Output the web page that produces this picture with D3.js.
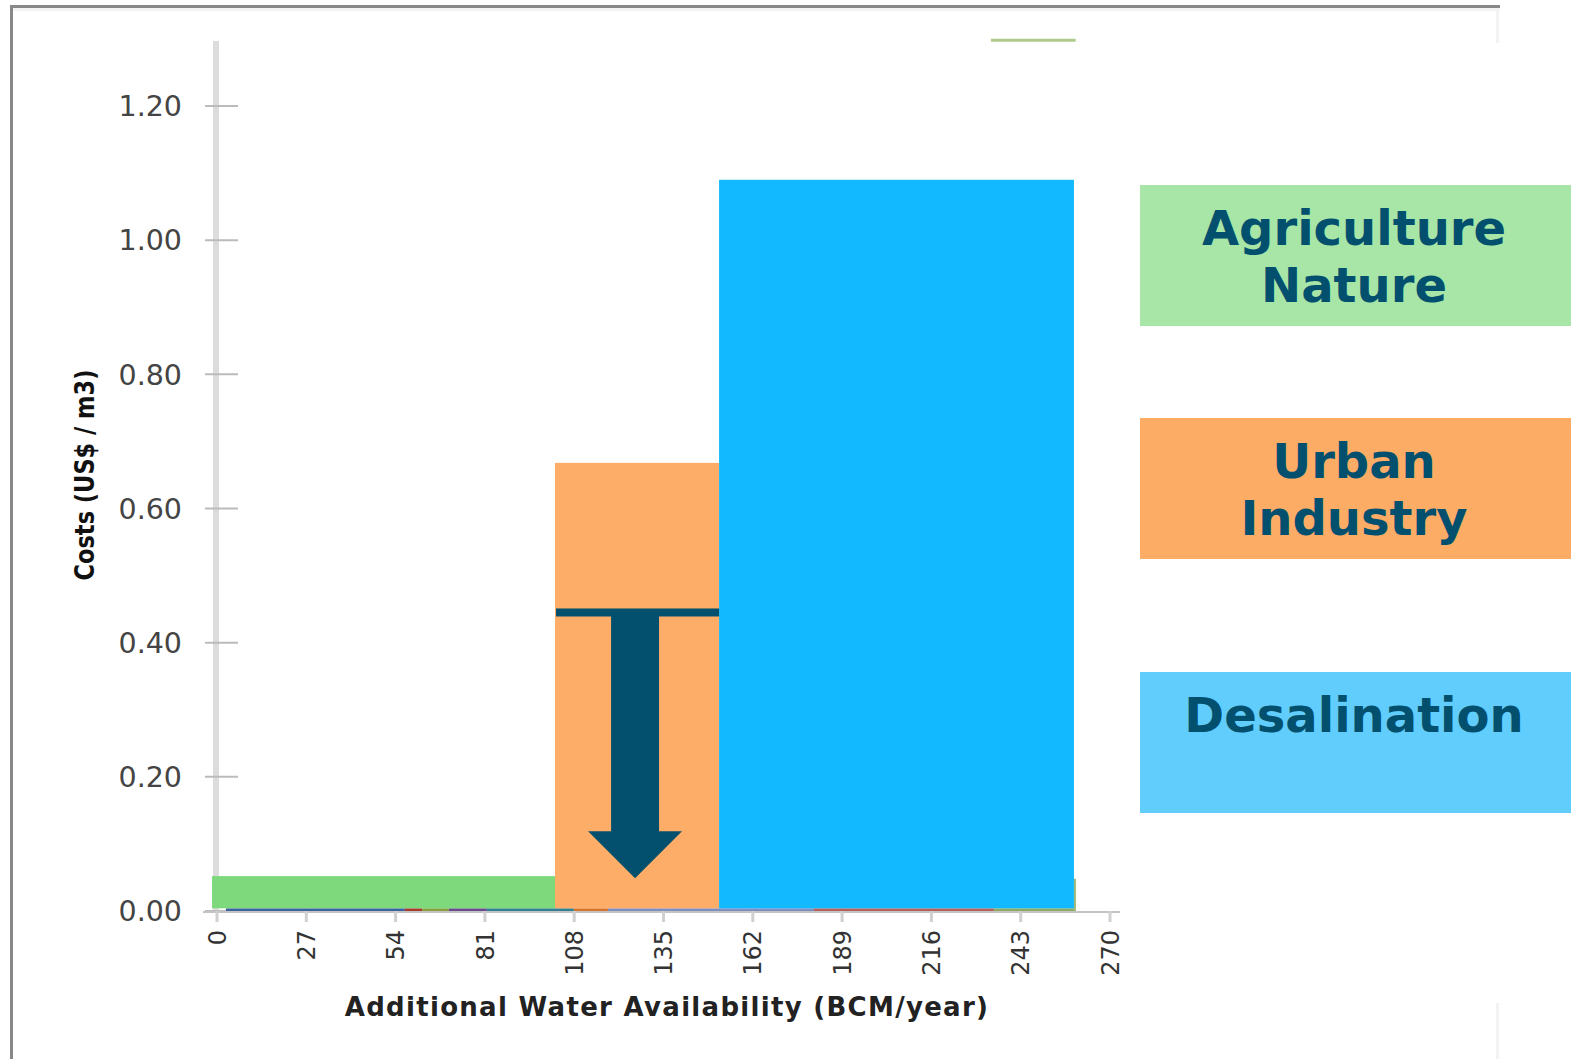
<!DOCTYPE html>
<html>
<head>
<meta charset="utf-8">
<script src="https://cdn.jsdelivr.net/npm/d3@7"></script>
<style>
  body { margin: 0; background: #fff; }
  text { font-family: "DejaVu Sans", Verdana, sans-serif; }
</style>
</head>
<body>
<script>
// ---- data ----
var yTicks = [0, 0.2, 0.4, 0.6, 0.8, 1.0, 1.2];
var xTicks = [0, 27, 54, 81, 108, 135, 162, 189, 216, 243, 270];

// main cost-curve blocks (BCM/year start & end, US$/m3)
var blockNames = ["Agriculture Nature", "Urban Industry", "Desalination"];
var blockStart = [-1.5, 102.2, 151.8];
var blockEnd   = [102.2, 151.8, 259.1];
var blockCost  = [0.052, 0.668, 1.09];
var blockColor = ["#7ed97d", "#fdad67", "#12b9fe"];

// thin near-zero measures along the axis
var segStart = [2.7, 56.8, 62, 70.1, 81.6, 107.9, 118.2, 180.5, 234.9];
var segEnd   = [56.8, 62, 70.1, 81.6, 107.9, 118.2, 180.5, 234.9, 259.1];
var segCost  = [0.004, 0.004, 0.004, 0.004, 0.004, 0.004, 0.004, 0.004, 0.004];
var segColor = ["#3b62a0", "#a8392c", "#85a03c", "#6a4a8e", "#2f8092", "#d8742a", "#7c8fc0", "#b5615a", "#8eaa62"];

// hidden block whose top edge peeks out above the plot
var hiddenStart = 234, hiddenEnd = 259.6, hiddenCost = 1.298;

// target line and arrow (urban / industry cost reduction)
var targetCost = 0.445;
var arrowX = 126.4, arrowShaft = 14.5, arrowHead = 28.4;
var arrowHeadBase = 0.119, arrowTip = 0.049;

// legend boxes
var legendLines = [["Agriculture", "Nature"], ["Urban", "Industry"], ["Desalination"]];
var legendColor = ["#a7e6a6", "#fdac66", "#61cdfc"];

// ---- layout ----
var W = 1571, H = 1059;
var x = d3.scaleLinear().domain([0, 270]).range([217, 1110]);
var y = d3.scaleLinear().domain([0, 1.2]).range([911, 106]);

var svg = d3.select("body").append("svg")
    .attr("width", W)
    .attr("height", H);

svg.append("rect").attr("width", W).attr("height", H).attr("fill", "#fff");

// outer frame (top & left only, like a cropped slide)
svg.append("rect").attr("x", 10).attr("y", 8).attr("width", 1490).attr("height", 3).attr("fill", "#f3f3f3");
svg.append("rect").attr("x", 10).attr("y", 5).attr("width", 1490).attr("height", 3).attr("fill", "#888");
svg.append("rect").attr("x", 10).attr("y", 5).attr("width", 3).attr("height", H).attr("fill", "#888");
svg.append("rect").attr("x", 1496).attr("y", 11).attr("width", 3).attr("height", 32).attr("fill", "#f3f3f3");
svg.append("rect").attr("x", 1496).attr("y", 1003).attr("width", 3).attr("height", 56).attr("fill", "#f3f3f3");

// y axis line + ticks
svg.append("rect")
    .attr("x", 213).attr("y", 41)
    .attr("width", 6).attr("height", y(0) - 41)
    .attr("fill", "#dcdcdc");

svg.selectAll(".ytick")
    .data(yTicks)
  .enter().append("line")
    .attr("x1", 205).attr("x2", 238)
    .attr("y1", function(d) { return y(d); })
    .attr("y2", function(d) { return y(d); })
    .attr("stroke", "#bbb")
    .attr("stroke-width", 2);

svg.selectAll(".ylab")
    .data(yTicks)
  .enter().append("text")
    .attr("x", 182)
    .attr("y", function(d) { return y(d); })
    .attr("dy", "0.36em")
    .attr("text-anchor", "end")
    .style("font-size", "28.5px")
    .style("fill", "#444")
    .text(function(d) { return d3.format(".2f")(d); });

// x axis line + ticks
svg.append("line")
    .attr("x1", 203).attr("x2", 1120)
    .attr("y1", y(0) + 1).attr("y2", y(0) + 1)
    .attr("stroke", "#c4c4c4")
    .attr("stroke-width", 2);

svg.selectAll(".xtick")
    .data(xTicks)
  .enter().append("line")
    .attr("x1", function(d) { return x(d); })
    .attr("x2", function(d) { return x(d); })
    .attr("y1", y(0)).attr("y2", y(0) + 11)
    .attr("stroke", "#d0d0d0")
    .attr("stroke-width", 3);

svg.selectAll(".xlab")
    .data(xTicks)
  .enter().append("text")
    .attr("transform", function(d) { return "translate(" + x(d) + ",930) rotate(-90)"; })
    .attr("dy", "0.36em")
    .attr("text-anchor", "end")
    .style("font-size", "24px")
    .style("fill", "#333")
    .text(function(d) { return d; });

// axis titles
svg.append("text")
    .attr("x", 667).attr("y", 1016)
    .attr("text-anchor", "middle")
    .style("font-size", "26px")
    .style("font-weight", "bold")
    .style("letter-spacing", "1.3px")
    .style("fill", "#222")
    .text("Additional Water Availability (BCM/year)");

svg.append("text")
    .attr("transform", "translate(94,475) rotate(-90) scale(1,1.2)")
    .attr("text-anchor", "middle")
    .style("font-size", "22.5px")
    .style("font-weight", "bold")
    .style("fill", "#111")
    .text("Costs (US$ / m3)");

// hidden block top edge and right edge
svg.append("line")
    .attr("x1", x(hiddenStart)).attr("x2", x(hiddenEnd))
    .attr("y1", y(hiddenCost)).attr("y2", y(hiddenCost))
    .attr("stroke", "#aecb8c")
    .attr("stroke-width", 3);
svg.append("line")
    .attr("x1", x(259.1) + 1).attr("x2", x(259.1) + 1)
    .attr("y1", y(0.048)).attr("y2", y(0))
    .attr("stroke", "#9fb878")
    .attr("stroke-width", 2);

// thin near-zero segments
svg.selectAll(".seg")
    .data(segStart)
  .enter().append("rect")
    .attr("x", function(d) { return x(d); })
    .attr("width", function(d, i) { return x(segEnd[i]) - x(d); })
    .attr("y", function(d, i) { return y(segCost[i]); })
    .attr("height", function(d, i) { return y(0) - y(segCost[i]); })
    .attr("fill", function(d, i) { return segColor[i]; });

// main blocks, stacked on the thin segment layer
var base = segCost[0];
svg.selectAll(".block")
    .data(blockNames)
  .enter().append("rect")
    .attr("x", function(d, i) { return x(blockStart[i]); })
    .attr("width", function(d, i) { return x(blockEnd[i]) - x(blockStart[i]); })
    .attr("y", function(d, i) { return y(blockCost[i]); })
    .attr("height", function(d, i) { return y(base) - y(blockCost[i]); })
    .attr("fill", function(d, i) { return blockColor[i]; });

// target line across urban block
svg.append("rect")
    .attr("x", x(blockStart[1]) + 1)
    .attr("width", x(blockEnd[1]) - x(blockStart[1]) - 1)
    .attr("y", y(targetCost) - 4)
    .attr("height", 8)
    .attr("fill", "#02506e");

// down arrow
var arrow = d3.path();
arrow.moveTo(x(arrowX - arrowShaft / 2), y(targetCost));
arrow.lineTo(x(arrowX + arrowShaft / 2), y(targetCost));
arrow.lineTo(x(arrowX + arrowShaft / 2), y(arrowHeadBase));
arrow.lineTo(x(arrowX + arrowHead / 2), y(arrowHeadBase));
arrow.lineTo(x(arrowX), y(arrowTip));
arrow.lineTo(x(arrowX - arrowHead / 2), y(arrowHeadBase));
arrow.lineTo(x(arrowX - arrowShaft / 2), y(arrowHeadBase));
arrow.closePath();
svg.append("path")
    .attr("d", arrow.toString())
    .attr("fill", "#02506e");

// legend boxes on the right
var boxTop = [185, 418, 672];
var lg = svg.selectAll(".legend")
    .data(legendLines)
  .enter().append("g")
    .attr("transform", function(d, i) { return "translate(1140," + boxTop[i] + ")"; });

lg.append("rect")
    .attr("width", W - 1140)
    .attr("height", 141)
    .attr("fill", function(d, i) { return legendColor[i]; });

lg.selectAll("text")
    .data(function(d) { return d; })
  .enter().append("text")
    .attr("x", 214)
    .attr("y", function(d, j) { return 60 + j * 57; })
    .attr("text-anchor", "middle")
    .style("font-size", "48px")
    .style("font-weight", "bold")
    .style("fill", "#02506e")
    .text(function(d) { return d; });
</script>
</body>
</html>
